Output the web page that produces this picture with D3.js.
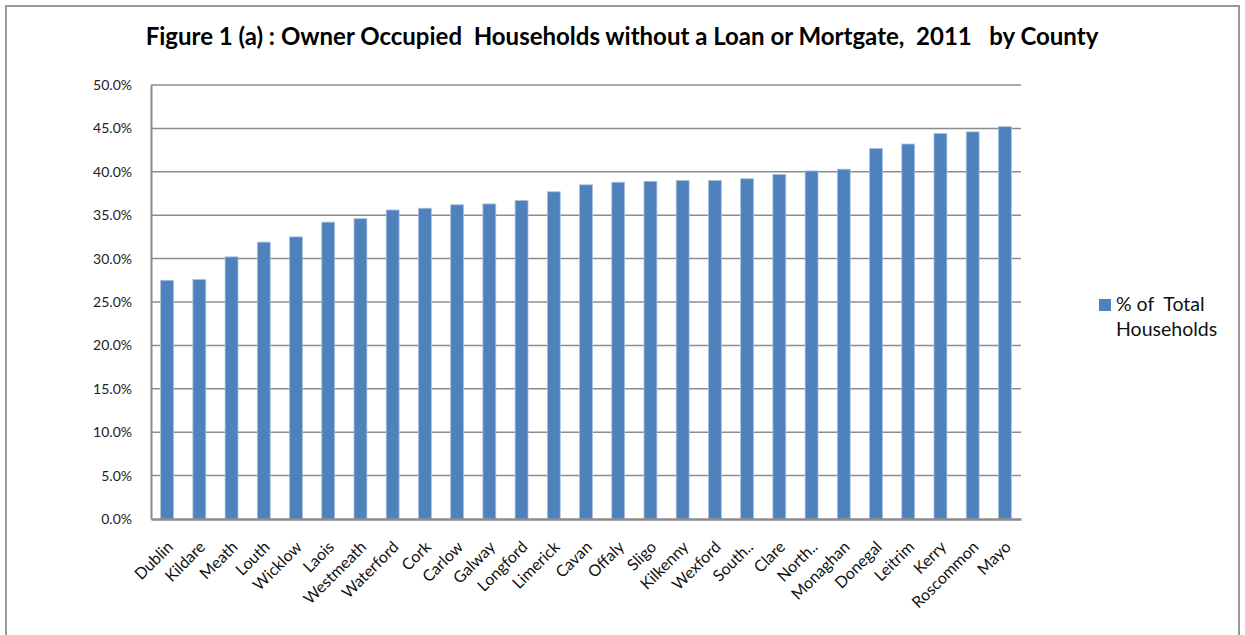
<!DOCTYPE html>
<html>
<head>
<meta charset="utf-8">
<script src="https://cdn.jsdelivr.net/npm/d3@7"></script>
<style>
  body { margin: 0; background: #fff; }
  svg { font-family: Lato, "Open Sans", sans-serif; }
</style>
</head>
<body>
<svg></svg>
<script>
const counties = ["Dublin", "Kildare", "Meath", "Louth", "Wicklow", "Laois", "Westmeath", "Waterford",
  "Cork", "Carlow", "Galway", "Longford", "Limerick", "Cavan", "Offaly", "Sligo", "Kilkenny", "Wexford",
  "South..", "Clare", "North..", "Monaghan", "Donegal", "Leitrim", "Kerry", "Roscommon", "Mayo"];
const pctHouseholds = [27.5, 27.6, 30.2, 31.9, 32.5, 34.2, 34.6, 35.6, 35.8, 36.2, 36.3, 36.7, 37.7,
  38.5, 38.8, 38.9, 39.0, 39.0, 39.2, 39.7, 40.1, 40.3, 42.7, 43.2, 44.4, 44.6, 45.2];
const yTicks = [0, 5, 10, 15, 20, 25, 30, 35, 40, 45, 50];
const seriesName = ["% of  Total", "Households"];
const title = "Figure 1 (a) : Owner Occupied  Households without a Loan or Mortgate,  2011   by County";

const width = 1245;
const height = 635;
const plotLeft = 151, plotRight = 1021, plotTop = 85, plotBottom = 519;
const font = "Lato, 'Open Sans', sans-serif";

const svg = d3.select("svg")
  .attr("width", width)
  .attr("height", height);

// chart frame
svg.append("rect")
  .attr("x", 6).attr("y", 6)
  .attr("width", 1233).attr("height", 640)
  .attr("fill", "none")
  .attr("stroke", "#999")
  .attr("stroke-width", 2);

const data = counties.map((c, i) => ({county: c, value: pctHouseholds[i]}));

const xScale = d3.scaleBand()
  .domain(counties)
  .range([plotLeft, plotRight])
  .paddingInner(0.6)
  .paddingOuter(0.3);

const yScale = d3.scaleLinear()
  .domain([0, 50])
  .range([plotBottom, plotTop]);

// gridlines
svg.append("g")
  .selectAll("line")
  .data(yTicks.slice(1))
  .enter()
  .append("line")
  .attr("x1", plotLeft).attr("x2", plotRight)
  .attr("y1", d => yScale(d)).attr("y2", d => yScale(d))
  .attr("stroke", "#8c8c8c")
  .attr("stroke-width", 1.5);

const yAxis = d3.axisLeft(yScale)
  .tickValues(yTicks)
  .tickSize(0)
  .tickPadding(19)
  .tickFormat(d => d.toFixed(1) + "%");

const gy = svg.append("g")
  .attr("transform", `translate(${plotLeft},0)`)
  .call(yAxis)
  .attr("font-family", font);
gy.select(".domain").attr("stroke", "#8c8c8c").attr("stroke-width", 2);
gy.selectAll("text").attr("font-size", 14).attr("fill", "#222");

// bars
svg.append("g")
  .selectAll("rect")
  .data(data)
  .enter()
  .append("rect")
  .attr("x", d => xScale(d.county))
  .attr("width", xScale.bandwidth())
  .attr("y", d => yScale(d.value))
  .attr("height", d => plotBottom - yScale(d.value))
  .attr("fill", "#4f81bd")
  .attr("stroke", "#a9c1df")
  .attr("stroke-width", 0.8);

const xAxis = d3.axisBottom(xScale).tickSize(0).tickPadding(0);
const gx = svg.append("g")
  .attr("transform", `translate(0,${plotBottom})`)
  .call(xAxis)
  .attr("font-family", font);
gx.select(".domain").attr("stroke", "#8c8c8c").attr("stroke-width", 2.5);
gx.selectAll("text")
  .attr("font-size", 16)
  .attr("fill", "#111")
  .style("text-anchor", "end")
  .attr("dy", 0)
  .attr("transform", "translate(7,29) rotate(-45)");

// title
svg.append("text")
  .attr("x", 622)
  .attr("y", 45)
  .attr("text-anchor", "middle")
  .attr("font-weight", "bold")
  .attr("font-size", 24)
  .attr("fill", "#000")
  .style("white-space", "pre")
  .text(title);

// legend
const legend = svg.append("g").attr("transform", "translate(1099,299)");
legend.append("rect")
  .attr("width", 12).attr("height", 12)
  .attr("fill", "#4f81bd");
legend.selectAll("text")
  .data(seriesName)
  .enter()
  .append("text")
  .attr("x", 17)
  .attr("y", (d, i) => 12 + i * 25)
  .attr("font-size", 19.5)
  .attr("fill", "#111")
  .style("white-space", "pre")
  .text(d => d);
</script>
</body>
</html>
